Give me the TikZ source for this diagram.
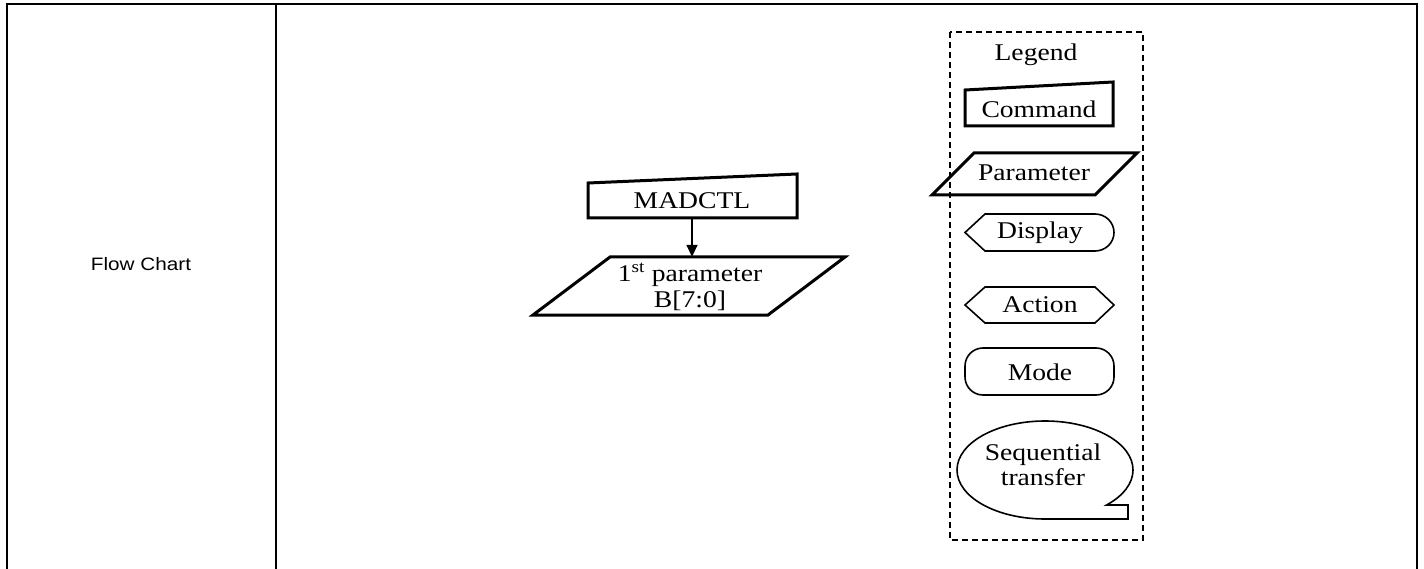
\documentclass[tikz,border=0pt]{standalone}
\usepackage{fontspec}
\usetikzlibrary{arrows.meta}
\newfontfamily\chartfont[FakeStretch=1.15]{Liberation Serif}
\newfontfamily\tablefont[FakeStretch=1.15]{Liberation Sans}
\begin{document}
\begin{tikzpicture}[
	x=1pt, y=-1pt,
	frame/.style={ line width=2pt },
	thickline/.style={ line width=3pt, line join=miter },
	thinline/.style={ line width=1.6pt },
	legendbox/.style={ line width=1.8pt, dash pattern=on 6pt off 4pt },
	label/.style={ font=\chartfont\fontsize{24}{25.5}\selectfont, inner sep=0pt, align=center },
	flowarrow/.style={ line width=1.8pt, -{Triangle[length=12pt,width=11pt]} }
]
\useasboundingbox (0,0) rectangle (1424,569);

% table frame
\draw[frame] (7,569) -- (7,4) -- (1417,4) -- (1417,569);
\draw[frame] (276,4) -- (276,569);
\node at (141,264) (title) [font=\tablefont\fontsize{18}{20}\selectfont] {Flow Chart};

% flow chart
\draw[thickline] (588,218) -- (797,218) -- (797,174) -- (588,183) -- cycle;
\node at (692,200.5) (madctl) [label, minimum height=35pt] {MADCTL};
\draw[thickline] (610,257) -- (845,257) -- (768,315) -- (533,315) -- cycle;
\node at (690,287) (param) [label, minimum height=60pt] {1\textsuperscript{st} parameter\\B[7:0]};
\draw[flowarrow] (madctl.south) -- (madctl.south |- param.north);

% legend
\draw[legendbox] (950,32) rectangle (1143,540);
\node at (1036,55) (legend) [label] {Legend};

\draw[thickline] (965,126) -- (1113,126) -- (1113,82) -- (965,90) -- cycle;
\node at (1039,109) (command) [label] {Command};

\draw[thickline] (974,153) -- (1137,153) -- (1095,195) -- (932,195) -- cycle;
\node at (1034,173) (parameter) [label] {Parameter};

\draw[thinline] (965,232.5) -- (985,214) -- (1095,214)
	arc[start angle=270, end angle=450, x radius=19, y radius=18.5] -- (985,251) -- cycle;
\node at (1040,233) (display) [label] {Display};

\draw[thinline] (965,305) -- (985,287) -- (1095,287) -- (1114,305) -- (1095,323) -- (985,323) -- cycle;
\node at (1040,305) (action) [label] {Action};

\draw[thinline, rounded corners=18pt] (965,348) rectangle (1114,395);
\node at (1040,372) (mode) [label] {Mode};

\draw[thinline] (1045,519) arc[start angle=90, end angle=405.6, x radius=88, y radius=49]
	-- (1128,505) -- (1128,519) -- cycle;
\node at (1043,465) (seq) [label] {Sequential\\transfer};

\end{tikzpicture}
\end{document}
